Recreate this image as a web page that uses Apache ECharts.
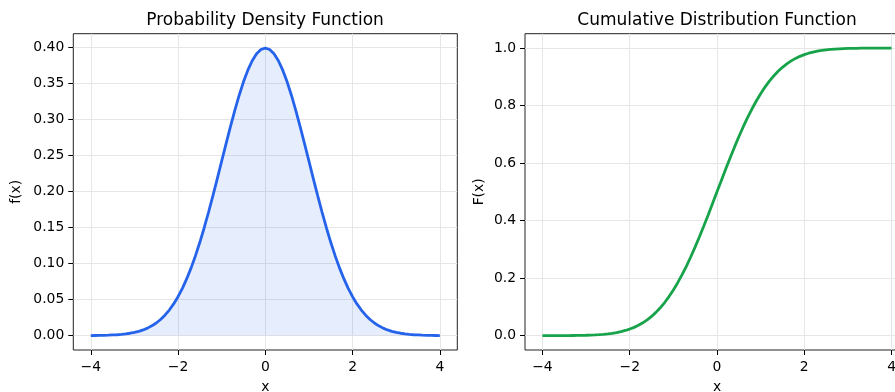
<!DOCTYPE html>
<html>
<head>
<meta charset="utf-8">
<script src="https://cdn.jsdelivr.net/npm/echarts@6/dist/echarts.min.js"></script>
<style>
  html, body { margin: 0; padding: 0; background: #fff; }
  #chart { width: 895px; height: 392px; }
</style>
</head>
<body>
<div id="chart"></div>
<script>
// sample points along x
const xs = [
  -4.0, -3.9, -3.8, -3.7, -3.6, -3.5, -3.4, -3.3, -3.2, -3.1,
  -3.0, -2.9, -2.8, -2.7, -2.6, -2.5, -2.4, -2.3, -2.2, -2.1,
  -2.0, -1.9, -1.8, -1.7, -1.6, -1.5, -1.4, -1.3, -1.2, -1.1,
  -1.0, -0.9, -0.8, -0.7, -0.6, -0.5, -0.4, -0.3, -0.2, -0.1,
  0.0, 0.1, 0.2, 0.3, 0.4, 0.5, 0.6, 0.7, 0.8, 0.9,
  1.0, 1.1, 1.2, 1.3, 1.4, 1.5, 1.6, 1.7, 1.8, 1.9,
  2.0, 2.1, 2.2, 2.3, 2.4, 2.5, 2.6, 2.7, 2.8, 2.9,
  3.0, 3.1, 3.2, 3.3, 3.4, 3.5, 3.6, 3.7, 3.8, 3.9, 4.0
];

// density values
const pdfValues = [
  0.0001, 0.0002, 0.0003, 0.0004, 0.0006, 0.0009, 0.0012, 0.0017, 0.0024, 0.0033,
  0.0044, 0.0060, 0.0079, 0.0104, 0.0136, 0.0175, 0.0224, 0.0283, 0.0355, 0.0440,
  0.0540, 0.0656, 0.0790, 0.0940, 0.1109, 0.1295, 0.1497, 0.1714, 0.1942, 0.2179,
  0.2420, 0.2661, 0.2897, 0.3123, 0.3332, 0.3521, 0.3683, 0.3814, 0.3910, 0.3970,
  0.3989, 0.3970, 0.3910, 0.3814, 0.3683, 0.3521, 0.3332, 0.3123, 0.2897, 0.2661,
  0.2420, 0.2179, 0.1942, 0.1714, 0.1497, 0.1295, 0.1109, 0.0940, 0.0790, 0.0656,
  0.0540, 0.0440, 0.0355, 0.0283, 0.0224, 0.0175, 0.0136, 0.0104, 0.0079, 0.0060,
  0.0044, 0.0033, 0.0024, 0.0017, 0.0012, 0.0009, 0.0006, 0.0004, 0.0003, 0.0002, 0.0001
];

// cumulative values
const cdfValues = [
  0.0000, 0.0000, 0.0001, 0.0001, 0.0002, 0.0002, 0.0003, 0.0005, 0.0007, 0.0010,
  0.0013, 0.0019, 0.0026, 0.0035, 0.0047, 0.0062, 0.0082, 0.0107, 0.0139, 0.0179,
  0.0228, 0.0287, 0.0359, 0.0446, 0.0548, 0.0668, 0.0808, 0.0968, 0.1151, 0.1357,
  0.1587, 0.1841, 0.2119, 0.2420, 0.2743, 0.3085, 0.3446, 0.3821, 0.4207, 0.4602,
  0.5000, 0.5398, 0.5793, 0.6179, 0.6554, 0.6915, 0.7257, 0.7580, 0.7881, 0.8159,
  0.8413, 0.8643, 0.8849, 0.9032, 0.9192, 0.9332, 0.9452, 0.9554, 0.9641, 0.9713,
  0.9772, 0.9821, 0.9861, 0.9893, 0.9918, 0.9938, 0.9953, 0.9965, 0.9974, 0.9981,
  0.9987, 0.9990, 0.9993, 0.9995, 0.9997, 0.9998, 0.9998, 0.9999, 0.9999, 1.0000, 1.0000
];

const xTicks = [-4, -2, 0, 2, 4];
const pdfTicks = [0, 0.05, 0.10, 0.15, 0.20, 0.25, 0.30, 0.35, 0.40];
const cdfTicks = [0, 0.2, 0.4, 0.6, 0.8, 1.0];

const FONT = 'DejaVu Sans';
const chart = echarts.init(document.getElementById('chart'));

const pair = (ys) => xs.map((x, i) => [x, ys[i]]);
const minus = (v) => (v < 0 ? '\u2212' + Math.abs(v) : String(v));

function xAxisCfg(gridIndex) {
  return {
    type: 'value',
    gridIndex,
    min: -4.4,
    max: 4.4,
    name: 'x',
    nameLocation: 'middle',
    nameGap: 30,
    nameTextStyle: { fontFamily: FONT, fontSize: 13.9, color: '#000' },
    axisLine: { show: false, onZero: false },
    axisTick: { show: true, length: 5, customValues: xTicks, lineStyle: { color: '#000', width: 1 } },
    axisLabel: { customValues: xTicks, margin: 10, fontFamily: FONT, fontSize: 13.9, color: '#000', formatter: minus },
    splitLine: { show: true, lineStyle: { color: '#e6e6e6', width: 1 } }
  };
}

function yAxisCfg(gridIndex, name, min, max, ticks, digits, gap) {
  return {
    type: 'value',
    gridIndex,
    min,
    max,
    name,
    nameLocation: 'middle',
    nameGap: gap,
    nameTextStyle: { fontFamily: FONT, fontSize: 13.9, color: '#000' },
    axisLine: { show: false, onZero: false },
    axisTick: { show: true, length: 5, customValues: ticks, lineStyle: { color: '#000', width: 1 } },
    axisLabel: { customValues: ticks, margin: 9, fontFamily: FONT, fontSize: 13.9, color: '#000', formatter: (v) => v.toFixed(digits) },
    splitLine: { show: true, lineStyle: { color: '#e6e6e6', width: 1 } }
  };
}

const gridBase = { top: 33.7, width: 384, height: 316.3, show: true, borderColor: '#222', borderWidth: 1,
  backgroundColor: 'transparent', containLabel: false, outerBoundsMode: 'none' };

const option = {
  animation: false,
  backgroundColor: '#fff',
  title: [
    { text: 'Probability Density Function', left: 265, top: 12, textAlign: 'center', padding: 0,
      textStyle: { fontFamily: FONT, fontSize: 17, fontWeight: 'normal', color: '#000' } },
    { text: 'Cumulative Distribution Function', left: 717, top: 12, textAlign: 'center', padding: 0,
      textStyle: { fontFamily: FONT, fontSize: 17, fontWeight: 'normal', color: '#000' } }
  ],
  grid: [
    Object.assign({ left: 73.3 }, gridBase),
    Object.assign({ left: 525 }, gridBase)
  ],
  xAxis: [xAxisCfg(0), xAxisCfg(1)],
  yAxis: [
    yAxisCfg(0, 'f(x)', -0.01995, 0.4189, pdfTicks, 2, 50),
    yAxisCfg(1, 'F(x)', -0.05, 1.05, cdfTicks, 1, 39)
  ],
  series: [
    {
      type: 'line',
      xAxisIndex: 0,
      yAxisIndex: 0,
      data: pair(pdfValues),
      showSymbol: false,
      lineStyle: { color: '#2563eb', width: 2.8 },
      areaStyle: { color: 'rgba(37,99,235,0.16)' }
    },
    {
      type: 'line',
      xAxisIndex: 1,
      yAxisIndex: 1,
      data: pair(cdfValues),
      showSymbol: false,
      lineStyle: { color: '#16a34a', width: 2.8 }
    }
  ]
};

chart.setOption(option);
</script>
</body>
</html>
